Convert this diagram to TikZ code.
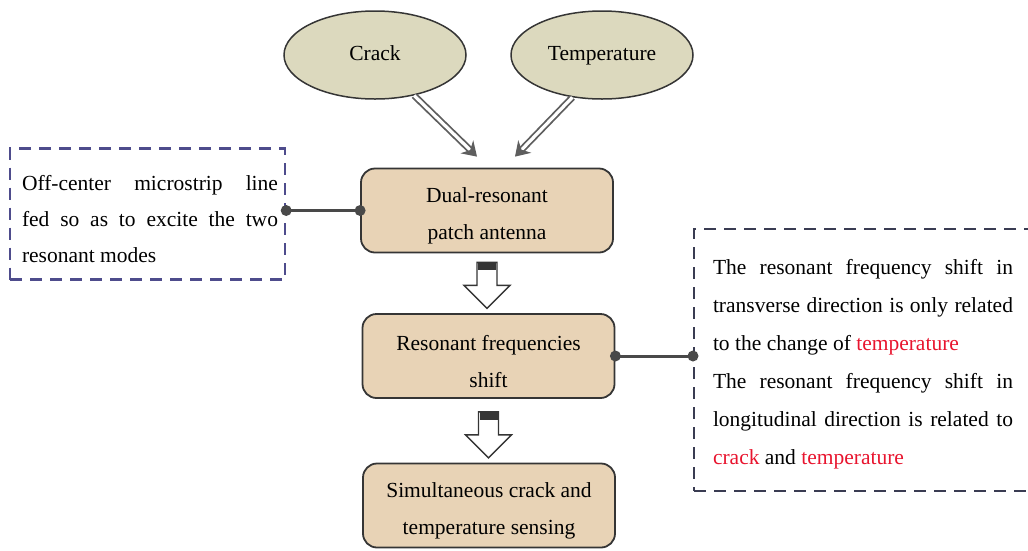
\documentclass[tikz,border=0pt]{standalone}
\usepackage{fontspec}
\setmainfont{Liberation Serif}
\usetikzlibrary{arrows.meta,calc,shapes.geometric}
\setlength{\parindent}{0pt}
\definecolor{ellfill}{HTML}{DCD9BE}
\definecolor{boxfill}{HTML}{E8D3B6}
\definecolor{edge}{HTML}{353535}
\definecolor{lblue}{HTML}{4E4C8C}
\definecolor{rnavy}{HTML}{3A3C52}
\definecolor{tred}{HTML}{E8142E}
\definecolor{arrgray}{HTML}{5E5E5E}
\begin{document}
\begin{tikzpicture}[x=1pt,y=-1pt,
  ellip/.style={ellipse,draw=edge,line width=1.5pt,fill=ellfill,minimum width=182pt,minimum height=88pt,inner sep=0pt,text height=14pt,text depth=4pt,font=\fontsize{21.5}{26}\selectfont},
  procbox/.style={rectangle,rounded corners=14pt,draw=edge,line width=1.8pt,fill=boxfill,minimum width=252pt,minimum height=84pt,align=center,inner sep=0pt,font=\fontsize{21.5}{37}\selectfont},
  dashbox/.style={rectangle,draw=#1,dashed,dash pattern=on 12pt off 8pt,line width=2.4pt,inner sep=0pt},
  txt/.style={align=justify,inner sep=0pt,font=\fontsize{21.5}{36}\selectfont},
  dblarrow/.style={draw=arrgray,double=white,double distance=3.2pt,line width=1.8pt,-{Stealth[length=14pt,width=18pt]}},
  link/.style={draw=edge!90,line width=3pt},
  dot/.style={circle,fill=edge!90,inner sep=0pt,minimum size=11pt},
  pics/holarrow/.style={code={
    \draw[edge,line width=1.4pt,fill=white] (-10,0) -- (10,0) -- (10,23) -- (23,23) -- (0,46) -- (-23,23) -- (-10,23) -- cycle;
    \fill[edge] (-9,0) rectangle (9,8);
  }}
]
\useasboundingbox (0,0) rectangle (1028,550);
\clip (0,0) rectangle (1028,550);

\node[ellip] (crack) at (375,55) {Crack};
\node[ellip] (temp) at (602,55) {Temperature};

\node[procbox] (b1) at (487,210.5) {\rule{0pt}{26pt}Dual-resonant\\patch antenna};
\node[procbox] (b2) at (488.5,356) {\rule{0pt}{26pt}Resonant frequencies\\shift};
\node[procbox] (b3) at (489,505.5) {\rule{0pt}{26pt}Simultaneous crack and\\temperature sensing};

% left dashed box
\node[dashbox=lblue,minimum width=275pt,minimum height=131pt] (lbox) at (147.5,214) {};
\node[txt,text width=256pt] (ltext) at (150,219) {Off-center microstrip line\linebreak fed so as to excite the two\linebreak resonant modes};

% right dashed box
\node[dashbox=rnavy,minimum width=350pt,minimum height=262pt,anchor=north west] (rbox) at (693,228) {};
\node[txt,text width=300pt,font=\fontsize{21.5}{38}\selectfont] (rtext) at (863,364) {The resonant frequency shift in\linebreak transverse direction is only related\linebreak to the change of \textcolor{tred}{temperature}\par The resonant frequency shift in\linebreak longitudinal direction is related to\linebreak \textcolor{tred}{crack} and \textcolor{tred}{temperature}};

% double arrows
\coordinate (c1) at ($(b1.north)+(-10,-11)$);
\coordinate (c2) at ($(b1.north)+(28,-11)$);
\draw[dblarrow] (crack.-46) -- (c1);
\draw[dblarrow] (temp.-125) -- (c2);

% hollow arrows
\pic at ($(b1.south)+(0,9)$) {holarrow};
\pic at ($(b2.south)+(0,13)$) {holarrow};

% links
\draw[link] (b1.west) -- (b1.west -| lbox.east);
\node[dot] (d1) at (b1.west -| lbox.east) {};
\node[dot] (d2) at (b1.west) {};
\draw[link] (b2.east) -- (b2.east -| rbox.west);
\node[dot] (d3) at (b2.east -| rbox.west) {};
\node[dot] (d4) at (b2.east) {};
\end{tikzpicture}
\end{document}
